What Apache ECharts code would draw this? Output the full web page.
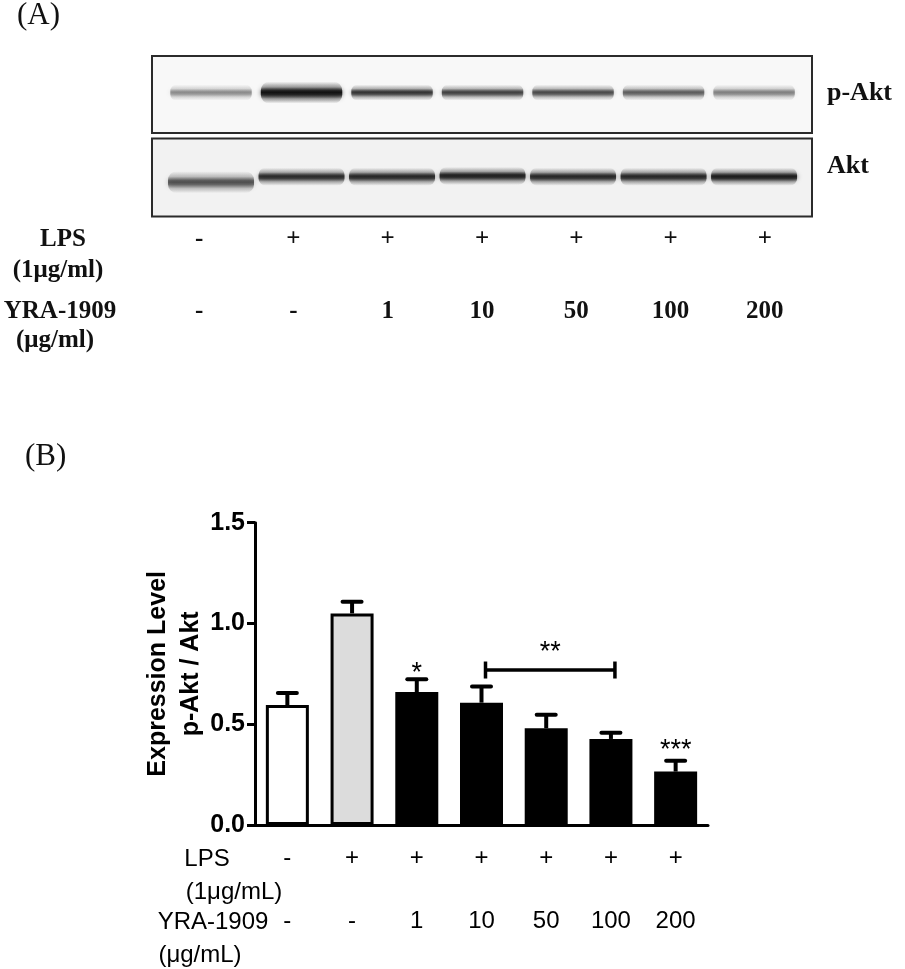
<!DOCTYPE html>
<html>
<head>
<meta charset="utf-8">
<script src="https://cdn.jsdelivr.net/npm/echarts@6/dist/echarts.min.js"></script>
<style>
html, body { margin: 0; padding: 0; background: #fff; }
#container { width: 905px; height: 969px; }
</style>
</head>
<body>
<div id="container"></div>
<script>
// (A) western blot lanes
var lanes = ['1', '2', '3', '4', '5', '6', '7'];
var lpsBlot = ['-', '+', '+', '+', '+', '+', '+'];
var doseBlot = ['-', '-', '1', '10', '50', '100', '200'];
var pAktIntensity = [0.42, 1.0, 0.78, 0.72, 0.68, 0.6, 0.46];
var aktIntensity = [0.66, 0.84, 0.86, 0.9, 0.86, 0.86, 0.92];
var aktMigration = [0.44, 0.51, 0.51, 0.52, 0.51, 0.51, 0.51];

// (B) p-Akt / Akt ratio
var lpsLabels = ['-', '+', '+', '+', '+', '+', '+'];
var doseLabels = ['-', '-', '1', '10', '50', '100', '200'];
var ratioMean = [0.595, 1.05, 0.66, 0.607, 0.48, 0.427, 0.265];
var ratioSem = [0.06, 0.058, 0.063, 0.08, 0.067, 0.031, 0.054];
var barColors = ['#ffffff', '#dcdcdc', '#000000', '#000000', '#000000', '#000000', '#000000'];
var stars = [[2, 0.779, '*'], [6, 0.397, '***']];
var bracket = [[3, 5, 0.769, 0.884, '**']];

var serif = '"Liberation Serif", "Times New Roman", serif';
var sans = '"Liberation Sans", Arial, sans-serif';

var myChart = echarts.init(document.getElementById('container'));

function ink(a) { return 'rgba(18,18,18,' + Math.min(1, a).toFixed(3) + ')'; }

// soft blot band: vertical gradient, blurred ends
function bandItem(widthFrac, thickFn) {
    return function (params, api) {
        var c = api.coord([api.value(0), api.value(1)]);
        var w = api.size([widthFrac, 0])[0];
        var a = api.value(2);
        var h = thickFn(a, params.dataIndex);
        return {
            type: 'rect',
            shape: {x: c[0] - w / 2, y: c[1] - h, width: w, height: h * 2, r: h * 0.8},
            style: {
                fill: new echarts.graphic.LinearGradient(0, 0, 0, 1, [
                    {offset: 0, color: ink(0)},
                    {offset: 0.25, color: ink(a * 0.3)},
                    {offset: 0.42, color: ink(a * 0.9)},
                    {offset: 0.5, color: ink(a)},
                    {offset: 0.6, color: ink(a * 0.85)},
                    {offset: 0.78, color: ink(a * 0.3)},
                    {offset: 1, color: ink(0)}
                ]),
                shadowBlur: 5,
                shadowColor: ink(a * 0.5)
            }
        };
    };
}

var blotAxis = {type: 'value', min: -0.652, max: 6.64, show: false};

var option = {
    animation: false,
    backgroundColor: '#ffffff',
    grid: [
        {left: 152, top: 56, width: 660, height: 77, show: true, backgroundColor: '#f8f8f8', borderColor: '#2b2b2b', borderWidth: 2},
        {left: 152, top: 138.5, width: 660, height: 78, show: true, backgroundColor: '#f2f2f2', borderColor: '#2b2b2b', borderWidth: 2},
        {left: 255, top: 522.7, width: 453, height: 302.3}
    ],
    xAxis: [
        Object.assign({gridIndex: 0}, blotAxis),
        Object.assign({gridIndex: 1, position: 'top'}, blotAxis),
        {
            gridIndex: 1, type: 'category', position: 'bottom', data: lanes,
            axisLine: {show: false}, axisTick: {show: false},
            axisLabel: {
                margin: 5, interval: 0, color: '#111', fontFamily: serif, fontWeight: 'bold', fontSize: 25, lineHeight: 36,
                formatter: function (v, i) { return lpsBlot[i] + '\n\n' + doseBlot[i]; }
            }
        },
        {
            gridIndex: 2, type: 'category', data: lanes,
            axisLine: {lineStyle: {color: '#000', width: 3}},
            axisTick: {alignWithLabel: true, length: 8, lineStyle: {color: '#000', width: 3}},
            axisLabel: {
                margin: 18, interval: 0, color: '#000', fontFamily: sans, fontSize: 24, lineHeight: 31.5,
                formatter: function (v, i) { return lpsLabels[i] + '\n\n' + doseLabels[i]; }
            }
        }
    ],
    yAxis: [
        {gridIndex: 0, type: 'value', min: 0, max: 1, show: false},
        {gridIndex: 1, type: 'value', min: 0, max: 1, show: false},
        {
            gridIndex: 2, type: 'value', min: 0, max: 1.5, interval: 0.5,
            name: 'Expression Level\np-Akt / Akt', nameLocation: 'middle', nameGap: 47, nameMoveOverlap: false,
            nameTextStyle: {color: '#000', fontFamily: sans, fontWeight: 'bold', fontSize: 25, lineHeight: 33},
            axisLine: {show: true, lineStyle: {color: '#000', width: 3}},
            axisTick: {show: true, length: 8, lineStyle: {color: '#000', width: 3}},
            axisLabel: {margin: 10, color: '#000', fontFamily: sans, fontWeight: 'bold', fontSize: 25,
                formatter: function (v) { return v.toFixed(1); }},
            splitLine: {show: false}
        }
    ],
    series: [
        {
            name: 'p-Akt', type: 'custom', xAxisIndex: 0, yAxisIndex: 0, silent: true,
            renderItem: bandItem(0.9, function (a, i) { return i === 1 ? 11 : 8; }),
            data: pAktIntensity.map(function (v, i) { return [i, 0.525, v]; })
        },
        {
            name: 'Akt', type: 'custom', xAxisIndex: 1, yAxisIndex: 1, silent: true,
            renderItem: bandItem(0.95, function (a, i) { return i === 0 ? 11 : 9; }),
            data: aktIntensity.map(function (v, i) { return [i, aktMigration[i], v]; })
        },
        {
            name: 'ratio', type: 'bar', xAxisIndex: 3, yAxisIndex: 2, barWidth: 43,
            data: ratioMean.map(function (v, i) {
                return {value: v, itemStyle: {color: barColors[i], borderColor: '#000', borderWidth: 3}};
            })
        },
        {
            name: 'sem', type: 'custom', xAxisIndex: 3, yAxisIndex: 2, z: 3,
            renderItem: function (params, api) {
                var top = api.coord([api.value(0), api.value(1)]);
                var cap = api.coord([api.value(0), api.value(2)]);
                return {
                    type: 'group',
                    children: [
                        {type: 'line', shape: {x1: top[0], y1: top[1], x2: top[0], y2: cap[1]}, style: {stroke: '#000', lineWidth: 4}},
                        {type: 'line', shape: {x1: top[0] - 9.5, y1: cap[1], x2: top[0] + 9.5, y2: cap[1]}, style: {stroke: '#000', lineWidth: 4, lineCap: 'round'}}
                    ]
                };
            },
            data: ratioMean.map(function (v, i) { return [i, v, v + ratioSem[i]]; })
        },
        {
            name: 'stars', type: 'custom', xAxisIndex: 3, yAxisIndex: 2, z: 4,
            renderItem: function (params, api) {
                var p = api.coord([api.value(0), api.value(1)]);
                return {
                    type: 'text',
                    style: {x: p[0], y: p[1] + 6, text: stars[params.dataIndex][2], align: 'center', verticalAlign: 'middle',
                        fill: '#000', font: '27px ' + sans}
                };
            },
            data: stars.map(function (s) { return [s[0], s[1]]; })
        },
        {
            name: 'bracket', type: 'custom', xAxisIndex: 3, yAxisIndex: 2, z: 4,
            renderItem: function (params, api) {
                var a = api.coord([api.value(0), api.value(2)]);
                var b = api.coord([api.value(1), api.value(2)]);
                var t = api.coord([api.value(0), api.value(3)]);
                var x1 = a[0] + 4, x2 = b[0] + 4;
                var ls = {stroke: '#000', lineWidth: 3.5};
                return {
                    type: 'group',
                    children: [
                        {type: 'line', shape: {x1: x1, y1: a[1], x2: x2, y2: a[1]}, style: ls},
                        {type: 'line', shape: {x1: x1, y1: a[1] - 8.5, x2: x1, y2: a[1] + 8.5}, style: ls},
                        {type: 'line', shape: {x1: x2, y1: a[1] - 8.5, x2: x2, y2: a[1] + 8.5}, style: ls},
                        {type: 'text', style: {x: (x1 + x2) / 2, y: t[1] + 6, text: bracket[params.dataIndex][4], align: 'center',
                            verticalAlign: 'middle', fill: '#000', font: '27px ' + sans}}
                    ]
                };
            },
            data: bracket.map(function (b) { return [b[0], b[1], b[2], b[3]]; })
        }
    ],
    graphic: [
        {type: 'text', left: 17, top: 0, style: {text: '(A)', font: '31px ' + serif, fill: '#111'}},
        {type: 'text', left: 25, top: 441, style: {text: '(B)', font: '31px ' + serif, fill: '#111'}},
        {type: 'text', x: 827, y: 93, style: {text: 'p-Akt', font: 'bold 26px ' + serif, fill: '#111', verticalAlign: 'middle'}},
        {type: 'text', x: 827, y: 166, style: {text: 'Akt', font: 'bold 26px ' + serif, fill: '#111', verticalAlign: 'middle'}},
        {type: 'text', x: 63, y: 240, style: {text: 'LPS', font: 'bold 25px ' + serif, fill: '#111', align: 'center', verticalAlign: 'middle'}},
        {type: 'text', x: 58, y: 271, style: {text: '(1μg/ml)', font: 'bold 25px ' + serif, fill: '#111', align: 'center', verticalAlign: 'middle'}},
        {type: 'text', x: 60, y: 312, style: {text: 'YRA-1909', font: 'bold 25px ' + serif, fill: '#111', align: 'center', verticalAlign: 'middle'}},
        {type: 'text', x: 55, y: 341, style: {text: '(μg/ml)', font: 'bold 25px ' + serif, fill: '#111', align: 'center', verticalAlign: 'middle'}},
        {type: 'text', x: 207, y: 859, style: {text: 'LPS', font: '24px ' + sans, fill: '#000', align: 'center', verticalAlign: 'middle'}},
        {type: 'text', x: 234, y: 892, style: {text: '(1μg/mL)', font: '24px ' + sans, fill: '#000', align: 'center', verticalAlign: 'middle'}},
        {type: 'text', x: 213, y: 922, style: {text: 'YRA-1909', font: '24px ' + sans, fill: '#000', align: 'center', verticalAlign: 'middle'}},
        {type: 'text', x: 200, y: 955, style: {text: '(μg/mL)', font: '24px ' + sans, fill: '#000', align: 'center', verticalAlign: 'middle'}}
    ]
};
myChart.setOption(option, true);
</script>
</body>
</html>
